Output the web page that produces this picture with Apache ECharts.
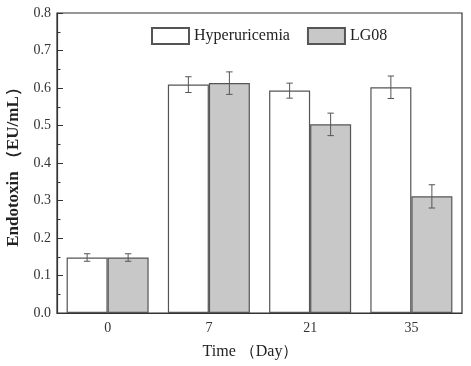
<!DOCTYPE html>
<html><head><meta charset="utf-8">
<script src="https://cdn.jsdelivr.net/npm/echarts@6/dist/echarts.min.js"></script>
<style>html,body{margin:0;padding:0;background:#fff}#c{width:471px;height:366px}</style>
</head><body><div id="c"></div>
<script>
var categories = ['0', '7', '21', '35'];
var seriesNames = ['Hyperuricemia', 'LG08'];
var hyperValues = [0.148, 0.609, 0.593, 0.602];
var hyperErrors = [0.010, 0.021, 0.020, 0.030];
var lgValues = [0.148, 0.613, 0.503, 0.311];
var lgErrors = [0.010, 0.030, 0.030, 0.031];
var yTicks = [0, 0.1, 0.2, 0.3, 0.4, 0.5, 0.6, 0.7, 0.8];

var FONT = 'Liberation Serif';
var CAT_GAP = 0.19;

function errorSeries(values, errors, side) {
  return {
    type: 'custom',
    silent: true,
    z: 10,
    data: values.map(function (v, i) { return [i, v, errors[i]]; }),
    renderItem: function (params, api) {
      var idx = api.value(0);
      var v = api.value(1), e = api.value(2);
      var bandW = api.size([1, 0])[0];
      var barW = bandW * (1 - CAT_GAP) / 2;
      var c = api.coord([idx, v]);
      var x = c[0] + side * barW / 2;
      var top = api.coord([idx, v + e])[1];
      var bot = api.coord([idx, v - e])[1];
      var cap = 3.2;
      var st = { stroke: '#555', lineWidth: 1 };
      return { type: 'group', children: [
        { type: 'line', shape: { x1: x, y1: top, x2: x, y2: bot }, style: st },
        { type: 'line', shape: { x1: x - cap, y1: top, x2: x + cap, y2: top }, style: st },
        { type: 'line', shape: { x1: x - cap, y1: bot, x2: x + cap, y2: bot }, style: st }
      ]};
    }
  };
}

var chart = echarts.init(document.getElementById('c'), null, { renderer: 'canvas' });
chart.setOption({
  animation: false,
  backgroundColor: '#fff',
  textStyle: { fontFamily: FONT },
  grid: { left: 57, right: 9, top: 13, bottom: 53, containLabel: false, outerBoundsMode: 'none',
          show: true, borderColor: '#333', borderWidth: 1.2 },
  legend: {
    data: seriesNames,
    left: 146, top: 22,
    itemWidth: 37, itemHeight: 16, itemGap: 17,
    textStyle: { fontFamily: FONT, fontSize: 16, color: '#222' },
    icon: 'rect'
  },
  xAxis: {
    type: 'category',
    data: categories,
    axisLine: { show: true, lineStyle: { color: '#333', width: 1.2 } },
    axisTick: { show: false },
    axisLabel: { fontFamily: FONT, fontSize: 14, color: '#333', margin: 8 },
    name: 'Time （Day）',
    nameLocation: 'middle',
    nameGap: 31,
    nameTextStyle: { fontFamily: FONT, fontSize: 16, color: '#222', padding: [0, 18, 0, 0] }
  },
  yAxis: {
    type: 'value',
    min: 0, max: 0.8, interval: 0.1,
    axisLine: { show: true, lineStyle: { color: '#333', width: 1.2 } },
    axisTick: { show: true, inside: true, length: 6, lineStyle: { color: '#333' } },
    minorTick: { show: true, splitNumber: 2, length: 3.5, lineStyle: { color: '#333' } },
    splitLine: { show: false },
    axisLabel: { fontFamily: FONT, fontSize: 14, color: '#333', margin: 6,
                 formatter: function (v) { return v.toFixed(1); } },
    name: 'Endotoxin （EU/mL）',
    nameLocation: 'middle',
    nameGap: 32,
    nameTextStyle: { fontFamily: FONT, fontSize: 17, fontWeight: 'bold', color: '#222' }
  },
  series: [
    { name: seriesNames[0], type: 'bar', data: hyperValues, barGap: '0%', barCategoryGap: '19%',
      itemStyle: { color: '#ffffff', borderColor: '#555', borderWidth: 1.2 } },
    { name: seriesNames[1], type: 'bar', data: lgValues, barGap: '0%', barCategoryGap: '19%',
      itemStyle: { color: '#c8c8c8', borderColor: '#555', borderWidth: 1.2 } },
    errorSeries(hyperValues, hyperErrors, -1),
    errorSeries(lgValues, lgErrors, 1)
  ]
});
</script></body></html>
